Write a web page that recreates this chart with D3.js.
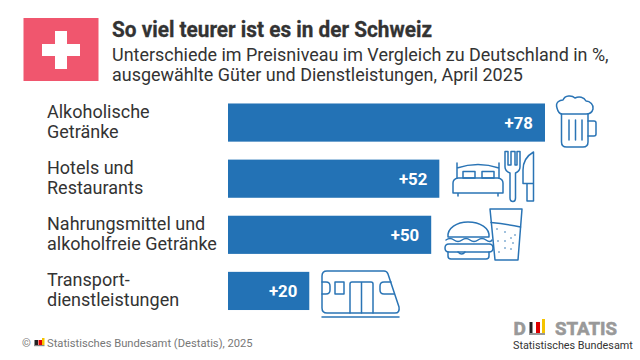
<!DOCTYPE html>
<html>
<head>
<meta charset="utf-8">
<style>
    body { margin: 0; background: #fff; }
    svg { display: block; }
    text { font-family: Roboto, sans-serif; }
    .icon path, .icon circle { fill: none; stroke: #2a74b5; stroke-width: 1.5; stroke-linejoin: round; stroke-linecap: round; }
</style>
</head>
<body>
<svg id="container" width="640" height="360"></svg>
<script src="https://d3js.org/d3.v7.min.js"></script>
<script>

let categories = [
    ["Alkoholische", "Getränke"],
    ["Hotels und", "Restaurants"],
    ["Nahrungsmittel und", "alkoholfreie Getränke"],
    ["Transport-", "dienstleistungen"]
]
let values = [78, 52, 50, 20]
let subtitleLines = [
    "Unterschiede im Preisniveau im Vergleich zu Deutschland in %,",
    "ausgewählte Güter und Dienstleistungen, April 2025"
]

let svg = d3.select("#container")
let dark = "#333333"

let x = d3.scaleLinear().domain([0, 78]).range([228, 545])
let y = d3.scaleBand().domain(d3.range(values.length)).range([94.5, 319]).paddingInner(0.32).paddingOuter(0.16)

// flag
svg.append("rect").attr("x", 23.5).attr("y", 18).attr("width", 75).attr("height", 63).attr("fill", "#f0566e")
svg.append("path").attr("fill", "#fff")
    .attr("d", "M55 31H67V44H80V56H67V69H55V56H42V44H55Z")

// header
svg.append("text").attr("x", 112).attr("y", 37)
    .attr("font-size", 22).attr("font-weight", 700).attr("fill", dark)
    .attr("stroke", dark).attr("stroke-width", 0.3)
    .attr("textLength", 320).attr("lengthAdjust", "spacingAndGlyphs")
    .text("So viel teurer ist es in der Schweiz")
svg.selectAll(".sub").data(subtitleLines).enter().append("text")
    .attr("class", "sub")
    .attr("x", 112).attr("y", (d, i) => 61 + i * 20)
    .attr("font-size", 17.95).attr("fill", dark)
    .text(d => d)

// bars
svg.selectAll(".bar").data(values).enter().append("rect")
    .attr("class", "bar")
    .attr("x", x(0))
    .attr("y", (d, i) => y(i))
    .attr("width", d => x(d) - x(0))
    .attr("height", y.bandwidth())
    .attr("fill", "#2372b5")

svg.selectAll(".val").data(values).enter().append("text")
    .attr("class", "val")
    .attr("x", d => x(d) - 12)
    .attr("y", (d, i) => y(i) + y.bandwidth() / 2 + 6)
    .attr("text-anchor", "end")
    .attr("font-size", 16.8).attr("font-weight", 700).attr("fill", "#fff")
    .text(d => "+" + d)

// category labels
categories.forEach((lines, i) => {
    svg.selectAll(".cat" + i).data(lines).enter().append("text")
        .attr("class", "cat" + i)
        .attr("x", 47)
        .attr("y", (d, j) => y(i) + 14.3 + j * 20)
        .attr("font-size", 18).attr("fill", dark)
        .text(d => d)
})

// icons
let icons = svg.append("g").attr("class", "icon")
let iconPaths = [
    // beer
    "M561.5 114V142Q561.5 147 566.5 147H583Q588 147 588 142V114",
    "M557 108C555 102 560 100 563 100C565 95 572 95 575 98C579 96 584 97 586 101C590 101 594 105 593 109C592 113 589 114 586 114H562C559 114 558 112 557 108Z",
    "M588 121H594Q596 121 596 123V134Q596 136 594 136H588",
    "M569 120V140M575.5 120V140M582 120V140",
    // bed
    "M457 163V178M499 163V178M457 168Q478 161 499 168",
    "M463 171.5H475V178H463ZM482 171.5H494V178H482Z",
    "M453 190V183Q453 179 458 178H498Q503 179 503 183V193H453V190M458 193V196M498 193V196",
    // fork and knife
    "M505 151.5V167Q505 171 510 173V198Q510 201.5 513 201.5Q515.5 201.5 515.5 198V173Q520 171 520 167V151.5H517V165H515V151.5H511V165H508V151.5Z",
    "M533.5 152Q523 158 523 170V183.5H533.5ZM527 183.5V201H533.5V183.5",
    // burger
    "M448 237C447 228 457 222 468 222C480 222 490 228 489 237Z",
    "M446 240Q450 237 454 240T462 240T470 240T478 240T486 240T492 240",
    "M449 244H489Q493 244 493 248Q493 252 489 252H449Q445 252 445 248Q445 244 449 244Z",
    "M448 252V256Q448 259 451 259H486Q489 259 489 256V252M458 252Q462 256 465 252",
    // glass
    "M490 209H522L518 260H495Z",
    "M491 222.5Q506 224 520.5 227",
    // train
    "M327 271H384Q387 271 388 274L399 307Q400 313 395 313H327Q322 313 322 308V276Q322 271 327 271Z",
    "M322 282H326Q330 282 330 286V290Q330 294 326 294H322",
    "M335 282H344V294H335Z",
    "M350 313V284Q350 282 352 282H371Q373 282 373 284V313M361.5 282V313",
    "M394 294H384Q380 294 380 290V286Q380 282 384 282H391",
    "M322 317H399"
]
icons.selectAll("path").data(iconPaths).enter().append("path").attr("d", d => d)

let bubbles = [[497, 229], [505, 232], [515, 235], [498, 241], [505, 241], [511, 238], [511, 249], [499, 252], [505, 248], [513, 243]]
svg.selectAll(".bubble").data(bubbles).enter().append("circle")
    .attr("class", "bubble").attr("cx", d => d[0]).attr("cy", d => d[1]).attr("r", 0.8).attr("fill", "#2a74b5")

// footer
svg.append("text").attr("x", 22).attr("y", 347)
    .attr("font-size", 11.2).attr("fill", "#777").text("©")
let small = [["#222", 34.5, 3.5, 5], ["#d00", 38.5, 3.5, 5], ["#f5c400", 42, 2.5, 7]]
svg.selectAll(".mini").data(small).enter().append("rect")
    .attr("class", "mini").attr("x", d => d[1]).attr("y", d => 345 - d[3]).attr("width", d => d[2]).attr("height", d => d[3]).attr("fill", d => d[0])
svg.append("rect").attr("x", 34).attr("y", 345).attr("width", 10.5).attr("height", 1.2).attr("fill", "#888")
svg.append("text").attr("x", 47).attr("y", 347)
    .attr("font-size", 11.2).attr("fill", "#777").text("Statistisches Bundesamt (Destatis), 2025")

// logo
svg.append("text").attr("x", 513.5).attr("y", 335)
    .attr("font-size", 19).attr("font-weight", 700).attr("fill", "#999").attr("stroke", "#999").attr("stroke-width", 0.6).text("D")
svg.append("text").attr("x", 555).attr("y", 335)
    .attr("font-size", 19).attr("font-weight", 700).attr("fill", "#999").attr("stroke", "#999").attr("stroke-width", 0.6)
    .attr("textLength", 62).attr("lengthAdjust", "spacingAndGlyphs").text("STATIS")
let logoBars = [["#222", 529.5, 3, 11], ["#d00", 536, 4, 11], ["#f5c400", 542, 3, 14]]
svg.selectAll(".logoBar").data(logoBars).enter().append("rect")
    .attr("class", "logoBar").attr("x", d => d[1]).attr("y", d => 333 - d[3]).attr("width", d => d[2]).attr("height", d => d[3]).attr("fill", d => d[0])
svg.append("rect").attr("x", 529).attr("y", 333).attr("width", 16).attr("height", 2).attr("fill", "#999")
svg.append("text").attr("x", 513).attr("y", 348.5)
    .attr("font-size", 10.8).attr("fill", dark).text("Statistisches Bundesamt")

</script>
</body>
</html>
